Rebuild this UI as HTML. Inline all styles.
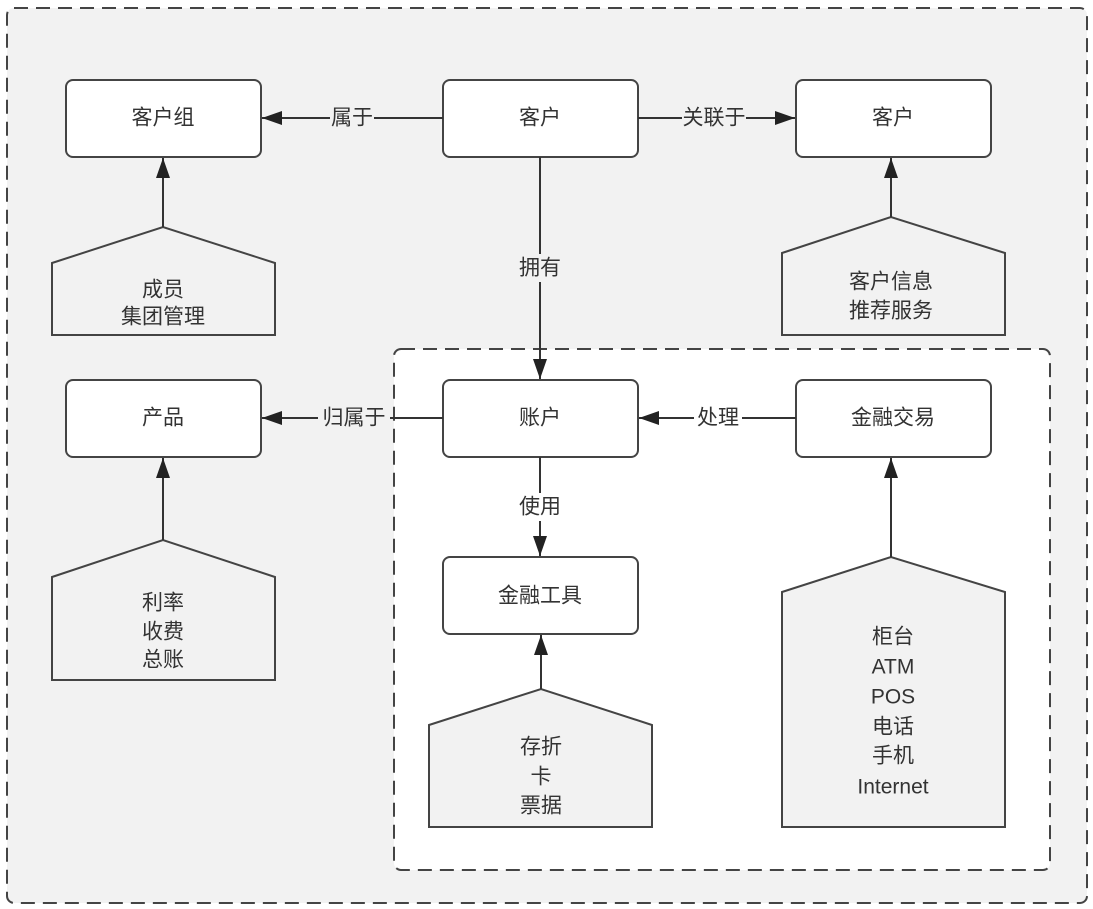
<!DOCTYPE html>
<html><head><meta charset="utf-8"><style>
html,body{margin:0;padding:0;background:#fff;}
svg{display:block;}
text{font-family:"Liberation Sans","Noto Sans CJK SC",sans-serif;font-size:21px;fill:#333;text-anchor:middle;dominant-baseline:central;}
</style></head><body>
<svg width="1093" height="909" viewBox="0 0 1093 909">
<defs>
<marker id="b" viewBox="0 0 20 14" markerWidth="20" markerHeight="14" refX="20" refY="7" orient="auto" markerUnits="userSpaceOnUse"><path d="M0,0 L20,7 L0,14 Z" fill="#222"/></marker>
</defs>
<rect x="0" y="0" width="1093" height="909" fill="#fff"/>
<rect x="7" y="8" width="1080" height="895" rx="7" fill="#f2f2f2" stroke="#444" stroke-width="2" stroke-dasharray="14,8"/>
<rect x="394" y="349" width="656" height="521" rx="7" fill="#fff" stroke="#444" stroke-width="2" stroke-dasharray="14,8"/>
<g fill="#fff" stroke="#444" stroke-width="2">
<rect x="66" y="80" width="195" height="77" rx="7"/>
<rect x="443" y="80" width="195" height="77" rx="7"/>
<rect x="796" y="80" width="195" height="77" rx="7"/>
<rect x="66" y="380" width="195" height="77" rx="7"/>
<rect x="443" y="380" width="195" height="77" rx="7"/>
<rect x="796" y="380" width="195" height="77" rx="7"/>
<rect x="443" y="557" width="195" height="77" rx="7"/>
</g>
<g fill="#f2f2f2" stroke="#444" stroke-width="2">
<polygon points="52,263 163,227 275,263 275,335 52,335"/>
<polygon points="782,253 891,217 1005,253 1005,335 782,335"/>
<polygon points="52,577 163,540 275,577 275,680 52,680"/>
<polygon points="429,725 541,689 652,725 652,827 429,827"/>
<polygon points="782,592 891,557 1005,592 1005,827 782,827"/>
</g>
<g stroke="#333" stroke-width="2" fill="none">
<line x1="443" y1="118" x2="262" y2="118" marker-end="url(#b)"/>
<line x1="638" y1="118" x2="795" y2="118" marker-end="url(#b)"/>
<line x1="540" y1="157" x2="540" y2="379" marker-end="url(#b)"/>
<line x1="443" y1="418" x2="262" y2="418" marker-end="url(#b)"/>
<line x1="796" y1="418" x2="639" y2="418" marker-end="url(#b)"/>
<line x1="540" y1="457" x2="540" y2="556" marker-end="url(#b)"/>
<line x1="163" y1="227" x2="163" y2="158" marker-end="url(#b)"/>
<line x1="891" y1="217" x2="891" y2="158" marker-end="url(#b)"/>
<line x1="163" y1="540" x2="163" y2="458" marker-end="url(#b)"/>
<line x1="541" y1="689" x2="541" y2="635" marker-end="url(#b)"/>
<line x1="891" y1="557" x2="891" y2="458" marker-end="url(#b)"/>
</g>
<g fill="#f2f2f2">
<rect x="330" y="104" width="44" height="28"/>
<rect x="682" y="104" width="64" height="28"/>
<rect x="516" y="254" width="48" height="28"/>
<rect x="318" y="404" width="72" height="28"/>
</g>
<g fill="#fff">
<rect x="694" y="404" width="48" height="28"/>
<rect x="516" y="493" width="48" height="28"/>
</g>
<text x="163" y="118">客户组</text>
<text x="540" y="118">客户</text>
<text x="893" y="118">客户</text>
<text x="163" y="418">产品</text>
<text x="540" y="418">账户</text>
<text x="893" y="418">金融交易</text>
<text x="540" y="596">金融工具</text>
<text x="352" y="118">属于</text>
<text x="714" y="118">关联于</text>
<text x="540" y="268">拥有</text>
<text x="354" y="418">归属于</text>
<text x="718" y="418">处理</text>
<text x="540" y="507">使用</text>
<text x="163" y="290">成员</text>
<text x="163" y="317">集团管理</text>
<text x="891" y="282">客户信息</text>
<text x="891" y="311">推荐服务</text>
<text x="163" y="603">利率</text>
<text x="163" y="632">收费</text>
<text x="163" y="660">总账</text>
<text x="541" y="747">存折</text>
<text x="541" y="777">卡</text>
<text x="541" y="806">票据</text>
<text x="893" y="637">柜台</text>
<text x="893" y="667">ATM</text>
<text x="893" y="697">POS</text>
<text x="893" y="727">电话</text>
<text x="893" y="756">手机</text>
<text x="893" y="787">Internet</text>
</svg>
</body></html>
